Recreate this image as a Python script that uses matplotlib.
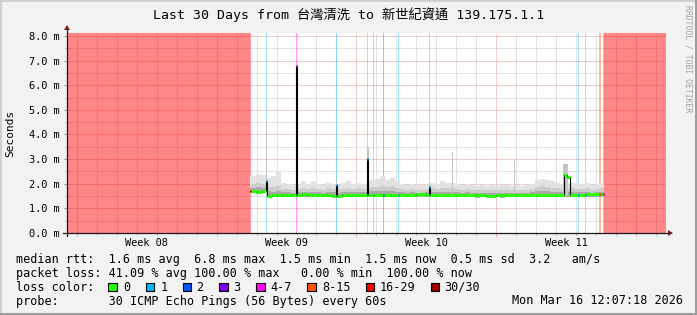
import matplotlib
matplotlib.use('Agg')
import matplotlib.pyplot as plt
from matplotlib.patches import Rectangle, Polygon
from matplotlib.lines import Line2D
import matplotlib.transforms as mtransforms
from datetime import datetime, timedelta

plt.rcParams['font.family'] = ['DejaVu Sans Mono', 'Noto Sans CJK TC']

# ---------------- data (time in days since graph start) ----------------
start = datetime(2026, 2, 14, 12, 7, 18)
end = datetime(2026, 3, 16, 12, 7, 18)

loss_labels = ['0', '1', '2', '3', '4-7', '8-15', '16-29', '30/30']
loss_colors = ['#26ff00', '#00b8ff', '#0059ff', '#7e00ff', '#ff00ff', '#ff5500', '#ff0000', '#a10000']

# 100% loss (no reply) periods
full_loss_start = [0.0, 26.90]
full_loss_end = [9.175, 30.0]

# median rtt (ms), step segments
med_t = [9.175, 9.225, 9.50, 9.75, 9.95, 10.00, 10.25, 10.50, 10.75, 11.00,
         11.25, 11.45, 11.50, 11.75, 12.00, 12.25, 12.50, 12.75, 13.00, 13.25,
         13.45, 13.50, 13.75, 14.00, 14.25, 14.50, 14.75, 15.05, 15.10, 15.35,
         15.40, 15.85, 15.90, 16.25, 16.60, 16.65, 17.00, 17.50, 18.00, 18.15,
         18.20, 18.50, 19.00, 19.50, 20.00, 20.50, 21.00, 21.50, 22.00, 22.50,
         23.00, 23.50, 24.00, 24.50, 24.90, 25.05, 25.20, 25.60, 25.65, 25.95,
         26.00, 26.65, 26.75, 26.85]
med_v = [1.72, 1.70, 1.68, 1.70, 2.10, 1.52, 1.55, 1.53, 1.56, 1.55,
         1.54, 6.80, 1.55, 1.57, 1.54, 1.55, 1.53, 1.56, 1.55, 1.52,
         1.95, 1.50, 1.55, 1.56, 1.55, 1.54, 1.56, 3.00, 1.55, 1.55,
         1.56, 1.55, 1.56, 1.54, 1.55, 1.56, 1.55, 1.57, 1.55, 1.88,
         1.55, 1.56, 1.54, 1.55, 1.56, 1.54, 1.52, 1.55, 1.53, 1.55,
         1.56, 1.55, 1.56, 1.55, 2.35, 2.28, 1.55, 1.55, 1.56, 1.55,
         1.57, 1.60, 1.58, 1.58]
med_loss = [6, 0, 0, 0, 1, 0, 0, 0, 0, 0,
            0, 4, 0, 0, 0, 0, 0, 0, 0, 0,
            1, 0, 0, 0, 0, 0, 0, 1, 0, 1,
            0, 2, 0, 0, 1, 0, 0, 0, 0, 1,
            0, 0, 0, 0, 0, 0, 0, 0, 0, 0,
            0, 0, 0, 0, 0, 0, 0, 1, 0, 1,
            0, 5, 0, 4]
data_end = 26.90

# smoke (ms), step segments
smoke_t = [9.175, 9.45, 9.70, 10.00, 10.20, 10.45, 10.70, 10.95, 11.20, 11.45,
           11.70, 11.95, 12.20, 12.45, 12.70, 12.95, 13.20, 13.45, 13.70, 13.95,
           14.20, 14.45, 14.70, 14.95, 15.20, 15.45, 15.70, 15.95, 16.20, 16.45,
           16.70, 16.95, 17.20, 17.45, 17.70, 17.95, 18.20, 18.45, 18.70, 18.95,
           19.20, 19.45, 19.70, 19.95, 20.20, 20.45, 20.70, 20.95, 21.20, 21.45,
           21.70, 21.95, 22.20, 22.45, 22.70, 22.95, 23.20, 23.45, 23.70, 23.95,
           24.20, 24.45, 24.70, 24.95, 25.20, 25.45, 25.70, 25.95, 26.20, 26.45,
           26.70]
smoke_hi = [2.30, 2.40, 2.35, 2.25, 2.30, 2.50, 2.05, 2.00, 1.95, 2.00,
            2.10, 2.00, 2.10, 2.00, 1.95, 2.05, 2.00, 1.95, 2.05, 2.10,
            2.00, 2.05, 2.00, 2.10, 2.15, 2.20, 2.30, 2.15, 2.25, 2.10,
            2.00, 1.95, 2.00, 1.95, 1.95, 2.00, 2.05, 2.00, 2.10, 2.05,
            2.05, 2.00, 1.95, 2.00, 1.95, 1.90, 1.95, 1.90, 1.95, 1.90,
            1.95, 1.95, 1.90, 1.95, 1.90, 1.95, 2.00, 2.15, 2.20, 2.15,
            2.10, 2.05, 2.00, 2.00, 2.05, 2.00, 2.00, 2.05, 1.95, 2.00,
            2.05]
smoke_mid = [2.00, 2.05, 2.00, 1.88, 1.85, 1.90, 1.80, 1.78, 1.76, 1.80,
             1.82, 1.78, 1.84, 1.80, 1.76, 1.82, 1.80, 1.76, 1.80, 1.84,
             1.80, 1.82, 1.80, 1.84, 1.86, 1.88, 1.92, 1.86, 1.90, 1.84,
             1.80, 1.76, 1.80, 1.76, 1.76, 1.80, 1.82, 1.80, 1.84, 1.82,
             1.82, 1.80, 1.76, 1.80, 1.76, 1.74, 1.76, 1.74, 1.76, 1.74,
             1.76, 1.76, 1.74, 1.76, 1.74, 1.76, 1.80, 1.86, 1.90, 1.86,
             1.84, 1.82, 1.80, 1.80, 1.82, 1.80, 1.80, 1.82, 1.76, 1.80,
             1.82]
smoke_core = [1.82, 1.85, 1.82, 1.70, 1.68, 1.70, 1.66, 1.65, 1.64, 1.66,
              1.67, 1.65, 1.68, 1.66, 1.64, 1.67, 1.66, 1.64, 1.66, 1.68,
              1.66, 1.67, 1.66, 1.68, 1.69, 1.70, 1.72, 1.69, 1.71, 1.68,
              1.66, 1.64, 1.66, 1.64, 1.64, 1.66, 1.67, 1.66, 1.68, 1.67,
              1.67, 1.66, 1.64, 1.66, 1.64, 1.63, 1.64, 1.63, 1.64, 1.63,
              1.64, 1.64, 1.63, 1.64, 1.63, 1.64, 1.66, 1.69, 1.71, 1.69,
              1.68, 1.67, 1.66, 1.66, 1.67, 1.66, 1.66, 1.67, 1.64, 1.66,
              1.68]
smoke_lo = [1.62, 1.60, 1.61, 1.46, 1.46, 1.47, 1.45, 1.46, 1.47, 1.46,
            1.45, 1.47, 1.46, 1.45, 1.47, 1.46, 1.45, 1.44, 1.46, 1.47,
            1.46, 1.45, 1.47, 1.46, 1.46, 1.47, 1.46, 1.45, 1.46, 1.47,
            1.46, 1.45, 1.46, 1.47, 1.46, 1.45, 1.46, 1.46, 1.47, 1.46,
            1.45, 1.46, 1.47, 1.46, 1.45, 1.44, 1.46, 1.45, 1.46, 1.45,
            1.44, 1.46, 1.45, 1.46, 1.47, 1.46, 1.45, 1.46, 1.47, 1.46,
            1.45, 1.46, 1.47, 1.46, 1.46, 1.47, 1.46, 1.45, 1.46, 1.47,
            1.48]

# short smoke spikes
spike_t = [9.95, 11.45, 13.45, 15.05, 18.15, 19.30, 22.38, 24.85]
spike_w = [0.05, 0.05, 0.05, 0.10, 0.10, 0.05, 0.05, 0.25]
spike_hi = [4.60, 6.85, 2.10, 3.50, 2.00, 3.30, 2.95, 2.80]

y_ticks = [0, 1, 2, 3, 4, 5, 6, 7, 8]

legend_line1 = "median rtt:  1.6 ms avg  6.8 ms max  1.5 ms min  1.5 ms now  0.5 ms sd  3.2   am/s"
legend_line2 = "packet loss: 41.09 % avg 100.00 % max   0.00 % min  100.00 % now"
legend_line4 = "probe:       30 ICMP Echo Pings (56 Bytes) every 60s"
stamp = "Mon Mar 16 12:07:18 2026"
title = "Last 30 Days from 台灣清洗 to 新世紀資通 139.175.1.1"

# ---------------- figure ----------------
W, H, DPI = 697, 315, 100
fig = plt.figure(figsize=(W / DPI, H / DPI), dpi=DPI, facecolor='#f2f2f2')


def fx(x):
    return x / W


def fy(y):
    return 1 - y / H


ax = fig.add_axes([fx(67), fy(233), 599 / W, 200 / H])
ax.set_facecolor('white')
ax.set_xlim(0, 30)
ax.set_ylim(0, 8.12)
for s in ax.spines.values():
    s.set_visible(False)


def d(dt):
    return (dt - start).total_seconds() / 86400.0


days = [d(datetime(2026, 2, 15) + timedelta(days=k)) for k in range(30)]
weeks = [d(datetime(2026, 2, 15) + timedelta(days=7 * k)) for k in range(5)]
minor_days = [v for v in days if all(abs(v - w) > 1e-6 for w in weeks)]
week_centers = [datetime(2026, 2, 18, 12) + timedelta(days=7 * k) for k in range(4)]

GRID = '#c6c6c6'
MGRID = '#e39c9c'
dot = dict(lw=0.72, ls=(0, (1, 1)), zorder=1)
for v in minor_days:
    ax.axvline(v, color=GRID, **dot)
for v in weeks:
    ax.axvline(v, color=MGRID, **dot)
for v in [k + 0.5 for k in range(8)]:
    ax.axhline(v, color=GRID, **dot)
for v in y_ticks[1:]:
    ax.axhline(v, color=MGRID, **dot)

# 100% loss areas
for a, b in zip(full_loss_start, full_loss_end):
    ax.axvspan(a, b, color='#ff0000', alpha=0.47, lw=0, zorder=2)

# loss background lines
seg_end = med_t[1:] + [data_end]
for t0, t1, c in zip(med_t, seg_end, med_loss):
    if c > 0:
        ax.axvspan(t0, t1, color=loss_colors[c], alpha=0.38, lw=0, zorder=2)

# smoke
st = smoke_t + [data_end]


def ext(v):
    return v + [v[-1]]


ax.fill_between(st, ext(smoke_lo), ext(smoke_hi), step='post', color='#e2e2e2', lw=0, zorder=3)
ax.fill_between(st, ext(smoke_lo), ext(smoke_mid), step='post', color='#cdcdcd', lw=0, zorder=3)
ax.fill_between(st, ext(smoke_lo), ext(smoke_core), step='post', color='#a9a9a9', lw=0, zorder=3)
for t0, w, hi in zip(spike_t, spike_w, spike_hi):
    ax.fill_between([t0, t0 + w], [1.5, 1.5], [hi, hi], color='#c4c4c4', lw=0, zorder=3)

# median
ax.step(med_t + [data_end], med_v + [med_v[-1]], where='post', color='black', lw=0.8, zorder=4)
ax.hlines(med_v, med_t, seg_end, colors=[loss_colors[c] for c in med_loss], lw=2.2, zorder=5)

# ticks
ax.set_yticks(y_ticks)
ax.set_yticklabels(['%.1f m' % v for v in y_ticks], fontsize=7.4)
ax.set_yticks([k + 0.5 for k in range(8)], minor=True)
ax.set_xticks(weeks)
ax.set_xticks(minor_days, minor=True)
ax.set_xticklabels([])
ax.tick_params(axis='y', which='major', length=2.5, width=0.72, pad=3.0, color='#909090')
ax.tick_params(axis='y', which='minor', length=1.5, width=0.72, color='#b0b0b0')
ax.tick_params(axis='x', which='major', length=2.0, width=0.72, color=MGRID)
ax.tick_params(axis='x', which='minor', length=1.5, width=0.72, color='#b0b0b0')

trans = mtransforms.blended_transform_factory(ax.transData, ax.transAxes)
for wc in week_centers:
    ax.text(d(wc), -0.048, wc.strftime('Week %V'), transform=trans, ha='center', va='center',
            fontsize=7.4, color='black')

# axes lines and arrows
AX = '#1a1a1a'
ARROW = '#801a1a'
fig.add_artist(Line2D([fx(63), fx(669)], [fy(233), fy(233)], color=AX, lw=0.9))
fig.add_artist(Line2D([fx(67), fx(67)], [fy(236), fy(30)], color=AX, lw=0.9))
fig.add_artist(Polygon([(fx(668), fy(230)), (fx(668), fy(236)), (fx(673), fy(233))],
                       closed=True, color=ARROW, lw=0))
fig.add_artist(Polygon([(fx(64), fy(30)), (fx(70), fy(30)), (fx(67), fy(25))],
                       closed=True, color=ARROW, lw=0))

# title and labels
fig.text(fx(348.5), fy(14.5), title, ha='center', va='center', fontsize=9.5, color='black')
fig.text(fx(10), fy(133), 'Seconds', rotation=90, ha='center', va='center', fontsize=8.0)
fig.text(fx(688), fy(5), 'RRDTOOL / TOBI OETIKER', rotation=270, ha='center', va='top',
         fontsize=5.8, color='#a0a0a0')

# legend
LF = 8.45
fig.text(fx(16), fy(259.5), legend_line1, ha='left', va='center', fontsize=LF)
fig.text(fx(16), fy(273.3), legend_line2, ha='left', va='center', fontsize=LF)
fig.text(fx(16), fy(287.3), 'loss color:', ha='left', va='center', fontsize=LF)
fig.text(fx(16), fy(301), legend_line4, ha='left', va='center', fontsize=LF)
fig.text(fx(512.5), fy(301), stamp, ha='left', va='center', fontsize=LF)

box_x = [108, 145.7, 182.7, 219.3, 256, 307, 365.7, 430.7]
lab_x = [123.3, 160.3, 196.3, 233.3, 270.3, 322.3, 380, 444.3]
for bx, lx, lab, col in zip(box_x, lab_x, loss_labels, loss_colors):
    fig.add_artist(Rectangle((fx(bx), fy(291.2)), 8.6 / W, 8.6 / H, facecolor=col,
                             edgecolor='black', lw=0.8))
    fig.text(fx(lx), fy(287.3), lab, ha='left', va='center', fontsize=LF)

# frame
fig.add_artist(Rectangle((0, fy(2)), 1, 2 / H, facecolor='#cfcfcf', lw=0))
fig.add_artist(Rectangle((0, 0), 2 / W, 1, facecolor='#cfcfcf', lw=0))
fig.add_artist(Rectangle((0, 0), 1, 2.5 / H, facecolor='#9e9e9e', lw=0))
fig.add_artist(Rectangle((fx(694.5), 0), 2.5 / W, 1, facecolor='#9e9e9e', lw=0))

fig.savefig('out.png', dpi=DPI, facecolor=fig.get_facecolor())
